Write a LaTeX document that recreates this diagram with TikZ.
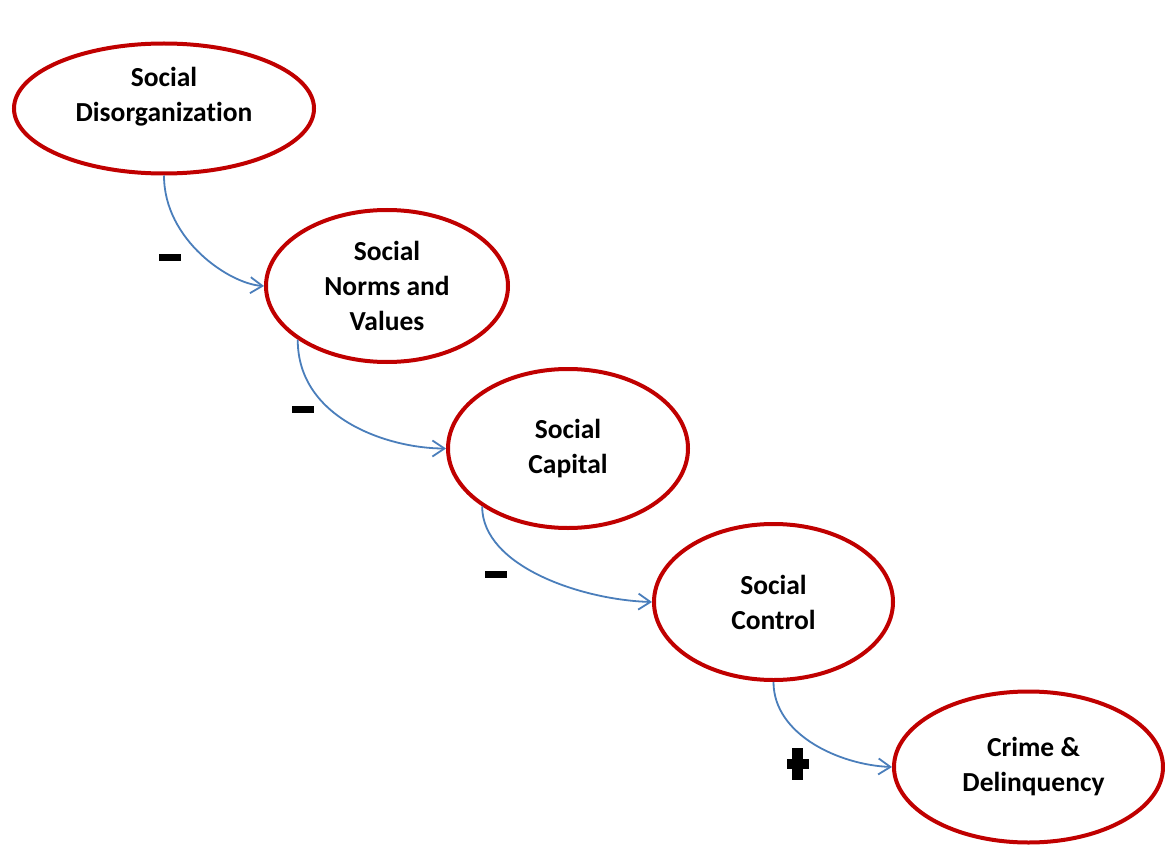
\documentclass[tikz,border=0pt]{standalone}
\usepackage{fontspec}
\setmainfont{Carlito}[Ligatures=NoCommon]
\usetikzlibrary{shapes.geometric,arrows.meta}
\definecolor{ered}{HTML}{C00000}
\definecolor{ablue}{HTML}{4A7EBB}
\begin{document}
\begin{tikzpicture}[x=1pt,y=-1pt,
  oval/.style={ellipse, draw=ered, line width=4pt, inner sep=0pt, align=center,
    font=\fontsize{27.5}{35}\selectfont\bfseries},
  lbl/.style={align=center, inner sep=0pt, font=\fontsize{27.5}{35}\selectfont\bfseries},
  link/.style={draw=ablue, line width=1.8pt, -{Straight Barb[length=12pt,width=16pt]}},
  minus/.style={rectangle, fill=black, draw=none, inner sep=0pt, minimum width=22pt, minimum height=7pt},
  plusbar/.style={rectangle, fill=black, draw=none, inner sep=0pt}]
\useasboundingbox (0,0) rectangle (1165,845);
\node[oval, minimum width=300pt, minimum height=130pt] (e1) at (164,108.5) {};
\node[lbl] (t1) at (164,97) {Social\\Disorganization};
\node[oval, minimum width=242pt, minimum height=152pt] (e2) at (387,286) {Social\\Norms and\\Values};
\node[oval, minimum width=240pt, minimum height=159pt] (e3) at (568,448.5) {Social\\Capital};
\node[oval, minimum width=239pt, minimum height=156pt] (e4) at (773.5,602) {Social\\Control};
\node[oval, minimum width=269pt, minimum height=151pt] (e5) at (1028.5,767) {};
\node[lbl] (t5) at (1033.5,767) {Crime \&\\Delinquency};
\draw[link] (e1.south) .. controls +(0,65) and +(-34,-2) .. (e2.west);
\draw[link] (e2.211) .. controls +(0,80) and +(-56,0) .. (e3.west);
\draw[link] (e3.214) .. controls +(0,60) and +(-70,-2) .. (e4.west);
\draw[link] (e4.south) .. controls +(0,53) and +(-52,-2) .. (e5.west);
\node[minus] (m1) at (169.5,257.7) {};
\node[minus] (m2) at (302.5,409.7) {};
\node[minus] (m3) at (496,574.3) {};
\node[plusbar, minimum width=22pt, minimum height=10.7pt] (p1) at (797.5,764) {};
\node[plusbar, minimum width=10.3pt, minimum height=32pt] (p2) at (797.5,764) {};
\end{tikzpicture}
\end{document}
